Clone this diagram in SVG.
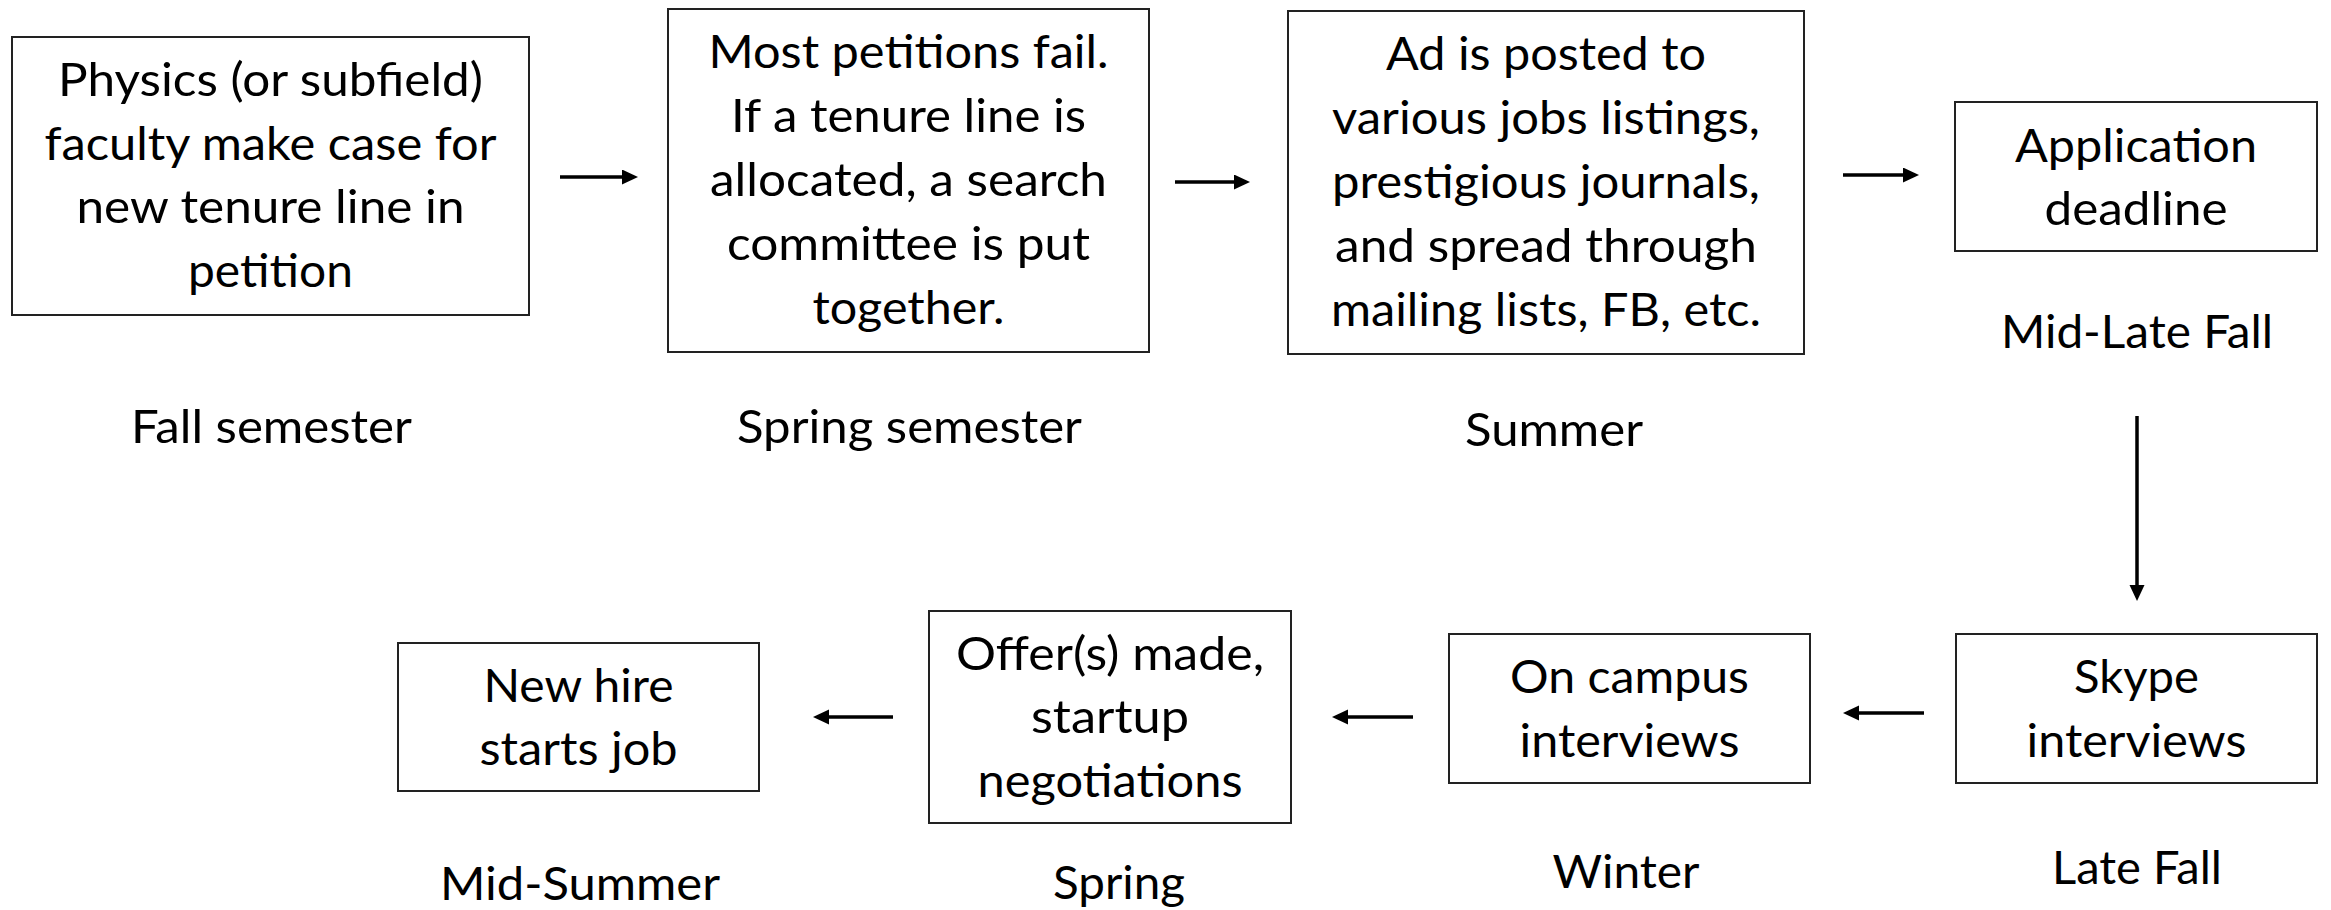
<svg xmlns="http://www.w3.org/2000/svg" width="2331" height="910" viewBox="0 0 2331 910">
<style>
.box{fill:#fff;stroke:#222;stroke-width:2}
.t{font-family:Lato,"Open Sans","Liberation Sans",sans-serif;font-size:47px;fill:#000;text-anchor:middle}
.c{stroke:#000;stroke-width:3.5;fill:none;marker-end:url(#ah)}
</style>
<defs>
<marker id="ah" markerUnits="userSpaceOnUse" markerWidth="16" markerHeight="16" refX="6" refY="7.5" orient="auto">
<path d="M0,0 L16,7.5 L0,15 z" fill="#000"/>
</marker>
</defs>
<rect width="2331" height="910" fill="#fff"/>
<g id="connectors">
<line class="c" x1="560" y1="177" x2="628" y2="177"/>
<line class="c" x1="1175" y1="182" x2="1240" y2="182"/>
<line class="c" x1="1843" y1="175" x2="1909" y2="175"/>
<line class="c" x1="2137" y1="416" x2="2137" y2="591"/>
<line class="c" x1="1924" y1="713" x2="1853" y2="713"/>
<line class="c" x1="1413" y1="717" x2="1342" y2="717"/>
<line class="c" x1="893" y1="717" x2="823" y2="717"/>
</g>
<g id="n1">
<rect class="box" x="12" y="37" width="517" height="278"/>
<text class="t" x="270.5" y="96" textLength="425" lengthAdjust="spacingAndGlyphs">Physics (or subfield)</text>
<text class="t" x="270.5" y="160" textLength="452" lengthAdjust="spacingAndGlyphs">faculty make case for</text>
<text class="t" x="270.5" y="223" textLength="388" lengthAdjust="spacingAndGlyphs">new tenure line in</text>
<text class="t" x="270.5" y="287" textLength="165" lengthAdjust="spacingAndGlyphs">petition</text>
<text class="t" x="271.5" y="443" textLength="281" lengthAdjust="spacingAndGlyphs">Fall semester</text>
</g>
<g id="n2">
<rect class="box" x="668" y="9" width="481" height="343"/>
<text class="t" x="908.5" y="68" textLength="400" lengthAdjust="spacingAndGlyphs">Most petitions fail.</text>
<text class="t" x="908.5" y="132" textLength="355" lengthAdjust="spacingAndGlyphs">If a tenure line is</text>
<text class="t" x="908.5" y="196" textLength="397" lengthAdjust="spacingAndGlyphs">allocated, a search</text>
<text class="t" x="908.5" y="260" textLength="363" lengthAdjust="spacingAndGlyphs">committee is put</text>
<text class="t" x="908.5" y="324" textLength="192" lengthAdjust="spacingAndGlyphs">together.</text>
<text class="t" x="909.5" y="443" textLength="345" lengthAdjust="spacingAndGlyphs">Spring semester</text>
</g>
<g id="n3">
<rect class="box" x="1288" y="11" width="516" height="343"/>
<text class="t" x="1546" y="70" textLength="320" lengthAdjust="spacingAndGlyphs">Ad is posted to</text>
<text class="t" x="1546" y="134" textLength="428" lengthAdjust="spacingAndGlyphs">various jobs listings,</text>
<text class="t" x="1546" y="198" textLength="428" lengthAdjust="spacingAndGlyphs">prestigious journals,</text>
<text class="t" x="1546" y="262" textLength="422" lengthAdjust="spacingAndGlyphs">and spread through</text>
<text class="t" x="1546" y="326" textLength="430" lengthAdjust="spacingAndGlyphs">mailing lists, FB, etc.</text>
<text class="t" x="1554" y="446" textLength="178" lengthAdjust="spacingAndGlyphs">Summer</text>
</g>
<g id="n4">
<rect class="box" x="1955" y="102" width="362" height="149"/>
<text class="t" x="2136" y="162" textLength="242" lengthAdjust="spacingAndGlyphs">Application</text>
<text class="t" x="2136" y="225" textLength="183" lengthAdjust="spacingAndGlyphs">deadline</text>
<text class="t" x="2137" y="348" textLength="272" lengthAdjust="spacingAndGlyphs">Mid-Late Fall</text>
</g>
<g id="n5">
<rect class="box" x="1956" y="634" width="361" height="149"/>
<text class="t" x="2136.5" y="693" textLength="125" lengthAdjust="spacingAndGlyphs">Skype</text>
<text class="t" x="2136.5" y="757" textLength="220" lengthAdjust="spacingAndGlyphs">interviews</text>
<text class="t" x="2137" y="884" textLength="170" lengthAdjust="spacingAndGlyphs">Late Fall</text>
</g>
<g id="n6">
<rect class="box" x="1449" y="634" width="361" height="149"/>
<text class="t" x="1629.5" y="693" textLength="239" lengthAdjust="spacingAndGlyphs">On campus</text>
<text class="t" x="1629.5" y="757" textLength="220" lengthAdjust="spacingAndGlyphs">interviews</text>
<text class="t" x="1626" y="888" textLength="147" lengthAdjust="spacingAndGlyphs">Winter</text>
</g>
<g id="n7">
<rect class="box" x="929" y="611" width="362" height="212"/>
<text class="t" x="1110" y="670" textLength="308" lengthAdjust="spacingAndGlyphs">Offer(s) made,</text>
<text class="t" x="1110" y="733" textLength="158" lengthAdjust="spacingAndGlyphs">startup</text>
<text class="t" x="1110" y="797" textLength="265" lengthAdjust="spacingAndGlyphs">negotiations</text>
<text class="t" x="1119" y="899" textLength="132" lengthAdjust="spacingAndGlyphs">Spring</text>
</g>
<g id="n8">
<rect class="box" x="398" y="643" width="361" height="148"/>
<text class="t" x="578.5" y="702" textLength="190" lengthAdjust="spacingAndGlyphs">New hire</text>
<text class="t" x="578.5" y="765" textLength="198" lengthAdjust="spacingAndGlyphs">starts job</text>
<text class="t" x="580" y="900" textLength="280" lengthAdjust="spacingAndGlyphs">Mid-Summer</text>
</g>
</svg>
